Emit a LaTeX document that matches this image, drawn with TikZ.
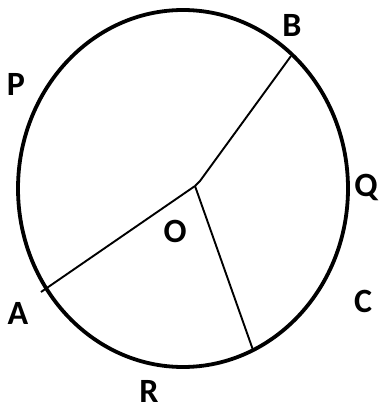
\documentclass[tikz,border=0pt]{standalone}
\usepackage{fontspec}
\setmainfont{Carlito}
\begin{document}
\begin{tikzpicture}[x=1pt,y=-1pt,
  lbl/.style={font=\fontsize{34}{34}\selectfont\bfseries, inner sep=0pt, anchor=center},
  rim/.style={line width=3.8pt},
  radius line/.style={line width=1.9pt}]
\useasboundingbox (0,0) rectangle (378,412);
\draw[rim] (183,188.5) ellipse [x radius=165, y radius=178.5];
\coordinate (O) at (195,186);
\coordinate (Bk) at (200,181);
\coordinate (Bp) at (291,56);
\coordinate (Ap) at (41,292);
\coordinate (Cp) at (253,350);
\draw[radius line] (O) -- (Bk) -- (Bp);
\draw[radius line] (O) -- (Ap);
\draw[radius line] (O) -- (Cp);
\node[lbl] (B) at (292,25) {B};
\node[lbl] (P) at (16,84) {P};
\node[lbl] (Q) at (366,187) {Q};
\node[lbl] (O label) at (175,231) {O};
\node[lbl] (A) at (18,313) {A};
\node[lbl] (C) at (363,301) {C};
\node[lbl] (R) at (149,391) {R};
\end{tikzpicture}
\end{document}
